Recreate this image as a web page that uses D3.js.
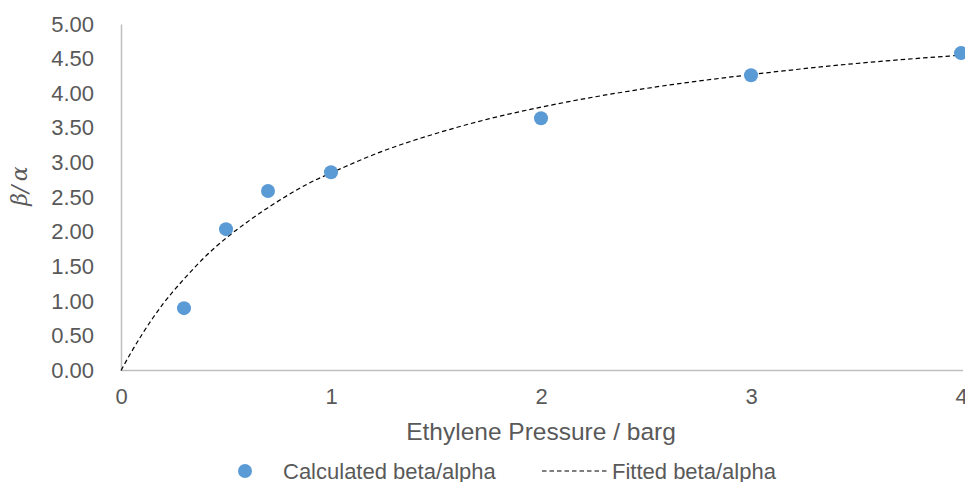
<!DOCTYPE html>
<html>
<head>
<meta charset="utf-8">
<script src="https://cdn.jsdelivr.net/npm/d3@7"></script>
<style>
  body { margin: 0; background: #fff; }
  svg { display: block; font-family: "Liberation Sans", Arial, sans-serif; }
</style>
</head>
<body>
<svg width="965" height="482"></svg>
<script>
'use strict';

// measured points (ethylene pressure / barg, beta/alpha)
const pressures = [0.3, 0.5, 0.7, 1, 2, 3, 4];
const ratios = [0.90, 2.04, 2.59, 2.86, 3.64, 4.26, 4.58];

// fitted curve
const fitX = [0, 0.05, 0.1, 0.15, 0.2, 0.3, 0.4, 0.5, 0.6, 0.7, 0.8, 0.9, 1.0, 1.25, 1.5, 1.75, 2, 2.5, 3, 3.5, 4];
const fitY = [0, 0.27, 0.52, 0.75, 0.96, 1.32, 1.64, 1.91, 2.14, 2.35, 2.54, 2.71, 2.85, 3.17, 3.42, 3.63, 3.80, 4.07, 4.27, 4.43, 4.55];

const xTicks = [0, 1, 2, 3, 4];
const yTicks = [0, 0.5, 1, 1.5, 2, 2.5, 3, 3.5, 4, 4.5, 5];

const svg = d3.select("svg");
const plotLeft = 121, plotRight = 961, plotTop = 24, plotBottom = 370.5;

const x = d3.scaleLinear().domain([0, 4]).range([plotLeft, plotRight]);
const y = d3.scaleLinear().domain([0, 5]).range([plotBottom, plotTop]);

const labelColour = "#595959";
const axisColour = "#bfbfbf";

// y axis
const yAxis = svg.append("g")
    .attr("transform", `translate(${plotLeft},0)`)
    .call(d3.axisLeft(y).tickValues(yTicks).tickFormat(d3.format(".2f")).tickSize(0).tickPadding(27));
yAxis.select(".domain").attr("stroke", axisColour).attr("stroke-width", 1.5);
yAxis.selectAll("text")
    .attr("fill", labelColour)
    .attr("font-size", 22)
    .attr("font-family", "Liberation Sans, Arial, sans-serif");

// x axis
const xAxis = svg.append("g")
    .attr("transform", `translate(0,${plotBottom})`)
    .call(d3.axisBottom(x).tickValues(xTicks).tickFormat(d3.format("d")).tickSize(0).tickPadding(18));
xAxis.select(".domain").attr("stroke", axisColour).attr("stroke-width", 1.5)
    .attr("d", `M${plotLeft},0H${plotRight + 2}`);
xAxis.selectAll("text")
    .attr("fill", labelColour)
    .attr("font-size", 22)
    .attr("font-family", "Liberation Sans, Arial, sans-serif");

// fitted line
const line = d3.line()
    .x((d, i) => x(fitX[i]))
    .y(d => y(d))
    .curve(d3.curveMonotoneX);

svg.append("path")
    .datum(fitY)
    .attr("d", line)
    .attr("fill", "none")
    .attr("stroke", "#000")
    .attr("stroke-width", 1.2)
    .attr("stroke-dasharray", "4.5,3");

// calculated points
svg.append("g").selectAll("circle")
    .data(pressures)
    .join("circle")
    .attr("cx", d => x(d))
    .attr("cy", (d, i) => y(ratios[i]))
    .attr("r", 7)
    .attr("fill", "#5b9bd5");

// axis titles
svg.append("text")
    .attr("x", (plotLeft + plotRight) / 2)
    .attr("y", 440)
    .attr("text-anchor", "middle")
    .attr("fill", labelColour)
    .attr("font-size", 24.5)
    .text("Ethylene Pressure / barg");

svg.append("text")
    .attr("transform", "translate(27,186) rotate(-90)")
    .attr("text-anchor", "middle")
    .attr("fill", labelColour)
    .attr("font-size", 22)
    .attr("font-family", "DejaVu Serif, Liberation Serif, serif")
    .attr("font-style", "italic")
    .text("β/\u2009α");

// legend
const legend = svg.append("g").attr("transform", "translate(0,471)");
legend.append("circle").attr("cx", 245).attr("cy", 0).attr("r", 7).attr("fill", "#5b9bd5");
legend.append("text")
    .attr("x", 283).attr("y", 0).attr("dy", "0.35em")
    .attr("fill", labelColour).attr("font-size", 22)
    .text("Calculated beta/alpha");
legend.append("line")
    .attr("x1", 542).attr("x2", 608).attr("y1", 0).attr("y2", 0)
    .attr("stroke", "#000").attr("stroke-width", 1.2).attr("stroke-dasharray", "4.5,3");
legend.append("text")
    .attr("x", 612).attr("y", 0).attr("dy", "0.35em")
    .attr("fill", labelColour).attr("font-size", 22)
    .text("Fitted beta/alpha");
</script>
</body>
</html>
